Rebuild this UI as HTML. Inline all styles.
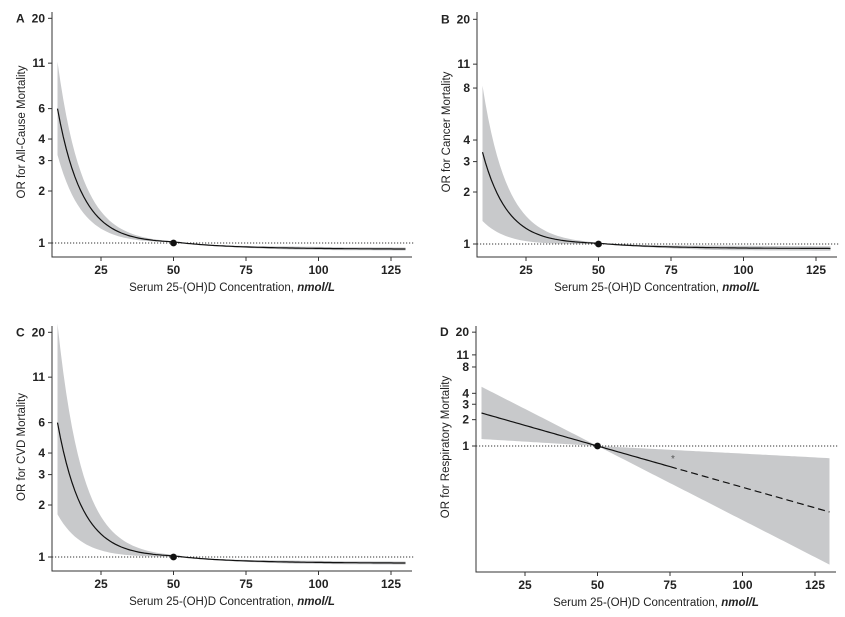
<!DOCTYPE html>
<html><head><meta charset="utf-8"><style>
html,body{margin:0;padding:0;background:#fff;}
svg{display:block;font-family:"Liberation Sans",sans-serif;}
.t{font-size:12px;font-weight:bold;fill:#222;}
.ti{font-size:11.5px;fill:#222;}
</style></head><body>
<svg id="s" width="845" height="617" viewBox="0 0 845 617"></svg>
<script>
var s=document.getElementById('s'),h='';
function panel(o){
  var ax=o.ax, yb=o.yb, y1=o.y1, k=o.k;
  function X(v){return ax+49+(v-25)*2.9;}
  function Y(or){return y1-k*Math.log(or);}
  var up=[],lo=[],ln=[],ln2=[];
  for(var v=10;v<=130;v+=1){
    var r=o.f(v);
    up.push(X(v).toFixed(1)+','+Y(r[1]).toFixed(1));
    lo.unshift(X(v).toFixed(1)+','+Y(r[2]).toFixed(1));
    if(!o.dashFrom||v<=o.dashFrom) ln.push(X(v).toFixed(1)+','+Y(r[0]).toFixed(1));
    if(o.dashFrom&&v>=o.dashFrom) ln2.push(X(v).toFixed(1)+','+Y(r[0]).toFixed(1));
  }
  h+='<polygon points="'+up.join(' ')+' '+lo.join(' ')+'" fill="#c8c9cb"/>';
  h+='<line x1="'+ax+'" y1="'+y1+'" x2="'+(ax+362)+'" y2="'+y1+'" stroke="#333" stroke-width="1" stroke-dasharray="1.2,1.8"/>';
  h+='<polyline points="'+ln.join(' ')+'" fill="none" stroke="#111" stroke-width="1.2"/>';
  if(ln2.length)h+='<polyline points="'+ln2.join(' ')+'" fill="none" stroke="#111" stroke-width="1.2" stroke-dasharray="7,4"/>';
  h+='<circle cx="'+X(50)+'" cy="'+y1+'" r="3.4" fill="#111"/>';
  h+='<path d="M'+ax+','+o.yt+' V'+yb+' H'+(ax+360)+'" fill="none" stroke="#333" stroke-width="1"/>';
  o.ticks.forEach(function(t){var y=Y(t);h+='<line x1="'+(ax-4)+'" y1="'+y+'" x2="'+ax+'" y2="'+y+'" stroke="#333"/><text class="t" x="'+(ax-7)+'" y="'+(y+4)+'" text-anchor="end">'+t+'</text>';});
  [25,50,75,100,125].forEach(function(v){h+='<line x1="'+X(v)+'" y1="'+yb+'" x2="'+X(v)+'" y2="'+(yb+4)+'" stroke="#333"/><text class="t" x="'+X(v)+'" y="'+(yb+17)+'" text-anchor="middle">'+v+'</text>';});
  h+='<text class="t" x="'+(ax-36)+'" y="'+(Y(20)+4)+'">'+o.L+'</text>';
  h+='<text class="ti" transform="translate('+(ax-27)+','+o.ymid+') rotate(-90)" text-anchor="middle">'+o.yl+'</text>';
  h+='<text class="ti" x="'+(ax+180)+'" y="'+(yb+34)+'" text-anchor="middle">Serum 25-(OH)D Concentration, <tspan font-style="italic" font-weight="bold">nmol/L</tspan></text>';
}
function curve(a0,up0,lo0,end,bw){
  return function(v){
    var e=Math.exp(-0.118*(v-10));
    var tail=Math.log(end)*(v>50?(1-Math.exp(-(v-50)/25)):0);
    var m=Math.log(a0)*e+tail;
    var u=Math.log(up0)*e+tail+bw*Math.min(1,Math.abs(v-50)/40);
    var l=Math.log(lo0)*e+tail-bw*Math.min(1,Math.abs(v-50)/40);
    return [Math.exp(m),Math.exp(u),Math.exp(l)];
  };
}
panel({ax:52,yt:12,yb:257,y1:243,k:75,L:'A',yl:'OR for All-Cause Mortality',ymid:132,ticks:[1,2,3,4,6,11,20],f:curve(6,11,3.3,0.92,0.02)});
panel({ax:477,yt:12,yb:257,y1:244,k:75,L:'B',yl:'OR for Cancer Mortality',ymid:132,ticks:[1,2,3,4,8,11,20],f:curve(3.4,8,1.4,0.94,0.03)});
panel({ax:52,yt:326,yb:571,y1:557,k:75,L:'C',yl:'OR for CVD Mortality',ymid:447,ticks:[1,2,3,4,6,11,20],f:curve(6,22,1.8,0.92,0.02)});
panel({ax:476,yt:326,yb:572,y1:446,k:38,L:'D',yl:'OR for Respiratory Mortality',ymid:447,ticks:[1,2,3,4,8,11,20],dashFrom:75,
 f:function(v){var d=(v-50);var m=-d*0.0217;var u,l;
  if(v<50){u=-d*0.039;l=-d*0.0046;}else{u=-d*0.004;l=-d*0.039;}
  return [Math.exp(m),Math.exp(u),Math.exp(l)];}});
h+='<text x="673" y="462" font-size="10" fill="#555" text-anchor="middle">*</text>';
s.innerHTML=h;
</script>
</body></html>
